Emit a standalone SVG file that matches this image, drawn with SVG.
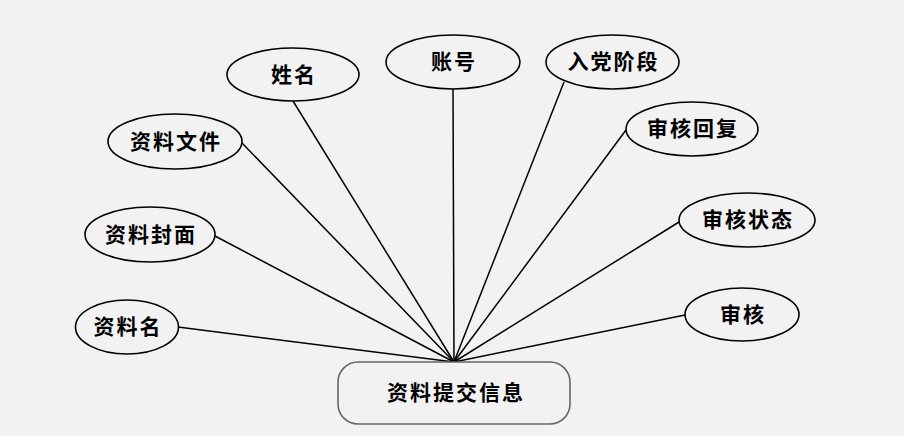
<svg xmlns="http://www.w3.org/2000/svg" width="904" height="436" viewBox="0 0 904 436">
<style>
.bg{fill:#f2f2f2}
.attr ellipse{fill:#f2f2f2;stroke:#000;stroke-width:1.6}
.ent rect{fill:#f2f2f2;stroke:#666;stroke-width:1.6}
text{font-family:"Liberation Serif","Noto Sans CJK SC",serif;font-size:21px;font-weight:bold;letter-spacing:2px;fill:#000;text-anchor:middle;dominant-baseline:central}
.conn line{stroke:#000;stroke-width:1.5}
</style>
<rect class="bg" x="0" y="0" width="904" height="436"/>
<g id="connectors" class="conn">
<line x1="178" y1="327" x2="454" y2="362"/>
<line x1="215" y1="236" x2="454" y2="362"/>
<line x1="242" y1="143" x2="454" y2="362"/>
<line x1="293" y1="101" x2="454" y2="362"/>
<line x1="453" y1="89" x2="454" y2="362"/>
<line x1="564" y1="82" x2="454" y2="362"/>
<line x1="626" y1="130" x2="454" y2="362"/>
<line x1="679" y1="222" x2="454" y2="362"/>
<line x1="685" y1="315" x2="454" y2="362"/>
</g>
<g id="entity" class="ent">
<rect x="338" y="362" width="232" height="62" rx="20" ry="20"/>
<text x="456" y="393">资料提交信息</text>
</g>
<g id="attr-xingming" class="attr"><ellipse cx="293" cy="74.5" rx="66" ry="26.5"/><text x="294" y="75">姓名</text></g>
<g id="attr-zhanghao" class="attr"><ellipse cx="453" cy="62" rx="67" ry="27"/><text x="454" y="62">账号</text></g>
<g id="attr-rudang" class="attr"><ellipse cx="612.5" cy="62" rx="66.5" ry="27"/><text x="613.5" y="62">入党阶段</text></g>
<g id="attr-shenhehuifu" class="attr"><ellipse cx="692" cy="129" rx="66" ry="27"/><text x="693" y="129">审核回复</text></g>
<g id="attr-shenhezhuangtai" class="attr"><ellipse cx="747" cy="220" rx="68" ry="27"/><text x="748" y="220">审核状态</text></g>
<g id="attr-shenhe" class="attr"><ellipse cx="742" cy="314.5" rx="57" ry="26.5"/><text x="743" y="315">审核</text></g>
<g id="attr-ziliaowenjian" class="attr"><ellipse cx="175" cy="141.5" rx="67" ry="27.5"/><text x="176" y="142">资料文件</text></g>
<g id="attr-ziliaofengmian" class="attr"><ellipse cx="150" cy="234.5" rx="65" ry="27.5"/><text x="151" y="235">资料封面</text></g>
<g id="attr-ziliaoming" class="attr"><ellipse cx="127" cy="327" rx="51.5" ry="27"/><text x="128" y="327">资料名</text></g>
</svg>
